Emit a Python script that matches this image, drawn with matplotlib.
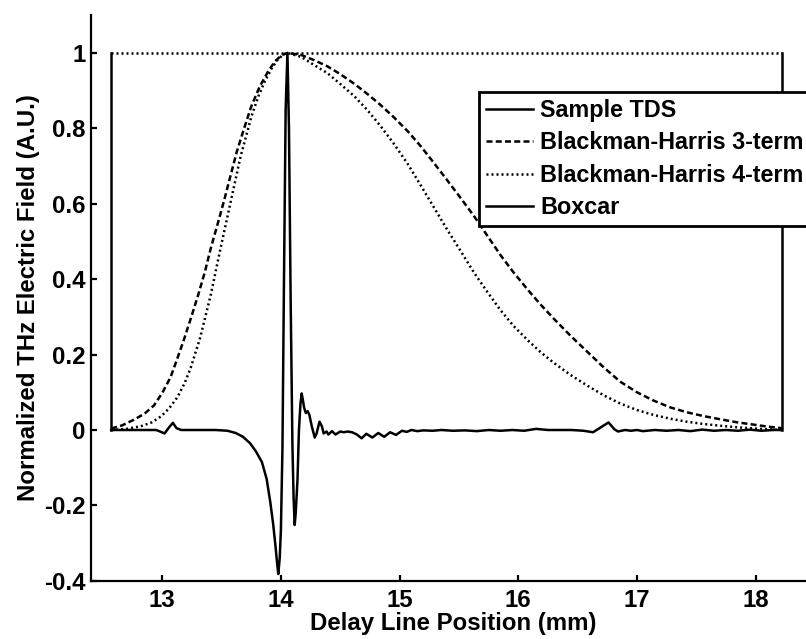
import matplotlib.pyplot as plt

# Values
tds_x = [12.57, 12.70, 12.85, 12.95, 13.02, 13.06, 13.09, 13.12, 13.16, 13.30,
         13.45, 13.55, 13.62, 13.68, 13.74, 13.79, 13.84, 13.88, 13.91, 13.935,
         13.955, 13.97, 13.978, 13.99, 14.0, 14.013, 14.026, 14.04, 14.055, 14.068,
         14.082, 14.097, 14.107, 14.116, 14.125, 14.14, 14.152, 14.165, 14.175, 14.185,
         14.195, 14.21, 14.225, 14.24, 14.26, 14.285, 14.30, 14.325, 14.345, 14.36,
         14.385, 14.40, 14.43, 14.46, 14.50, 14.53, 14.56, 14.60, 14.64, 14.68,
         14.72, 14.77, 14.82, 14.87, 14.92, 14.97, 15.02, 15.06, 15.10, 15.15,
         15.20, 15.28, 15.35, 15.45, 15.55, 15.65, 15.75, 15.85, 15.95, 16.05,
         16.15, 16.25, 16.35, 16.45, 16.55, 16.63, 16.70, 16.76, 16.81, 16.84,
         16.90, 16.95, 17.00, 17.05, 17.15, 17.25, 17.35, 17.45, 17.55, 17.65,
         17.75, 17.85, 17.95, 18.05, 18.15, 18.22]
tds_y = [0.0, 0.0, 0.0, 0.0, -0.009, 0.008, 0.019, 0.005, 0.0, 0.0,
         0.0, -0.002, -0.008, -0.018, -0.035, -0.057, -0.085, -0.13, -0.19, -0.25,
         -0.31, -0.36, -0.382, -0.34, -0.265, -0.05, 0.4, 0.85, 1.0, 0.8,
         0.35, -0.04, -0.18, -0.252, -0.22, -0.13, 0.0, 0.07, 0.097, 0.08,
         0.06, 0.045, 0.05, 0.04, 0.01, -0.02, -0.01, 0.022, 0.01, -0.009,
         -0.004, -0.012, -0.003, -0.012, -0.004, -0.006, -0.004, -0.006, -0.012, -0.022,
         -0.010, -0.020, -0.008, -0.018, -0.006, -0.013, -0.002, -0.005, 0.0, -0.003,
         -0.001, -0.002, 0.0, -0.002, -0.001, -0.003, 0.0, -0.002, 0.0, -0.002,
         0.003, 0.0, 0.0, 0.0, -0.002, -0.006, 0.008, 0.020, 0.002, -0.004,
         0.0, -0.002, 0.0, -0.003, 0.0, -0.002, 0.0, -0.003, 0.001, -0.002,
         0.0, -0.002, 0.001, -0.002, 0.0, 0.0]

bh3_x = [12.57, 12.66, 12.76, 12.85, 12.93, 13.00, 13.07, 13.12, 13.18, 13.24,
         13.30, 13.36, 13.41, 13.47, 13.52, 13.58, 13.63, 13.69, 13.75, 13.82,
         13.89, 13.95, 14.01, 14.055, 14.17, 14.28, 14.39, 14.50, 14.62, 14.73,
         14.84, 14.95, 15.07, 15.18, 15.29, 15.40, 15.52, 15.63, 15.74, 15.85,
         15.96, 16.08, 16.19, 16.30, 16.44, 16.58, 16.72, 16.86, 17.00, 17.14,
         17.28, 17.42, 17.56, 17.71, 17.85, 17.99, 18.10, 18.22]
bh3_y = [0.004, 0.012, 0.027, 0.043, 0.065, 0.098, 0.140, 0.183, 0.237, 0.295,
         0.355, 0.420, 0.483, 0.550, 0.607, 0.680, 0.740, 0.800, 0.858, 0.910,
         0.950, 0.978, 0.995, 1.0, 0.995, 0.981, 0.965, 0.944, 0.918, 0.891,
         0.862, 0.830, 0.792, 0.752, 0.708, 0.663, 0.613, 0.566, 0.515, 0.464,
         0.418, 0.372, 0.332, 0.295, 0.250, 0.208, 0.166, 0.128, 0.100, 0.078,
         0.060, 0.047, 0.037, 0.028, 0.020, 0.014, 0.009, 0.005]

bh4_x = [12.57, 12.70, 12.82, 12.91, 12.99, 13.06, 13.13, 13.19, 13.24, 13.32,
         13.41, 13.49, 13.58, 13.66, 13.75, 13.81, 13.86, 13.92, 13.97, 14.02,
         14.055, 14.17, 14.28, 14.39, 14.50, 14.62, 14.73, 14.84, 14.95, 15.07,
         15.18, 15.29, 15.40, 15.52, 15.63, 15.74, 15.85, 15.96, 16.08, 16.19,
         16.30, 16.44, 16.58, 16.72, 16.86, 17.00, 17.14, 17.28, 17.42, 17.56,
         17.71, 17.85, 17.99, 18.10, 18.22]
bh4_y = [0.0, 0.003, 0.010, 0.020, 0.036, 0.058, 0.088, 0.125, 0.165, 0.245,
         0.360, 0.480, 0.610, 0.725, 0.830, 0.885, 0.922, 0.958, 0.981, 0.996,
         1.0, 0.990, 0.968, 0.947, 0.918, 0.885, 0.848, 0.806, 0.760, 0.705,
         0.648, 0.590, 0.532, 0.472, 0.416, 0.366, 0.318, 0.276, 0.238, 0.206,
         0.178, 0.146, 0.118, 0.092, 0.070, 0.053, 0.040, 0.030, 0.022, 0.016,
         0.011, 0.007, 0.004, 0.002, 0.0]

box_x = [12.566, 12.566, 18.225, 18.225]
box_y = [0, 1, 1, 0]

xticks = [13, 14, 15, 16, 17, 18]
yticks = [-0.4, -0.2, 0, 0.2, 0.4, 0.6, 0.8, 1]
ytick_labels = ['-0.4', '-0.2', '0', '0.2', '0.4', '0.6', '0.8', '1']

plt.rcParams['font.family'] = ['Liberation Sans', 'DejaVu Sans']
plt.rcParams['font.weight'] = 'bold'
plt.rcParams['font.size'] = 17.3

fig = plt.figure(figsize=(8.06, 6.39), dpi=100)
ax = fig.add_axes([91 / 806, 58.2 / 639, 724 / 806, 565.5 / 639])

lw = 1.8
dashed = (0, (2.4, 1.3))
dotted = (0, (0.8, 1.2))
l1, = ax.plot(tds_x, tds_y, color='black', lw=lw, label='Sample TDS')
l2, = ax.plot(bh3_x, bh3_y, color='black', lw=lw, linestyle=dashed,
              label='Blackman-Harris 3-term')
l3, = ax.plot(bh4_x, bh4_y, color='black', lw=lw, linestyle=dotted,
              label='Blackman-Harris 4-term')
# boxcar: solid sides, the top edge shows up dotted in the original
l4, = ax.plot(box_x[:2], box_y[:2], color='black', lw=lw, label='Boxcar')
ax.plot(box_x[1:3], box_y[1:3], color='black', lw=lw, linestyle=dotted)
ax.plot(box_x[2:], box_y[2:], color='black', lw=lw)

ax.set_xlim(12.4, 18.5)
ax.set_ylim(-0.4, 1.1)
ax.set_xticks(xticks)
ax.set_xticklabels([str(t) for t in xticks])
ax.set_yticks(yticks)
ax.set_yticklabels(ytick_labels)

for side in ['top', 'right']:
    ax.spines[side].set_visible(False)
for side in ['left', 'bottom']:
    ax.spines[side].set_linewidth(1.6)
ax.tick_params(direction='in', length=4, width=1.6, pad=4)
ax.tick_params(axis='x', pad=6)

ax.set_xlabel('Delay Line Position (mm)', fontweight='bold', labelpad=0)
ax.set_ylabel('Normalized THz Electric Field (A.U.)', fontweight='bold', labelpad=3)

leg = fig.legend(handles=[l1, l2, l3, l4], loc='upper left',
                 bbox_to_anchor=(479 / 806, 1 - 92 / 639), borderaxespad=0,
                 handlelength=2.0, handletextpad=0.33, labelspacing=0.4,
                 borderpad=0.3, fancybox=False, framealpha=1, edgecolor='black',
                 prop={'weight': 'bold', 'size': 16.8})
leg.get_frame().set_linewidth(2)

fig.savefig('out.png', dpi=100)
